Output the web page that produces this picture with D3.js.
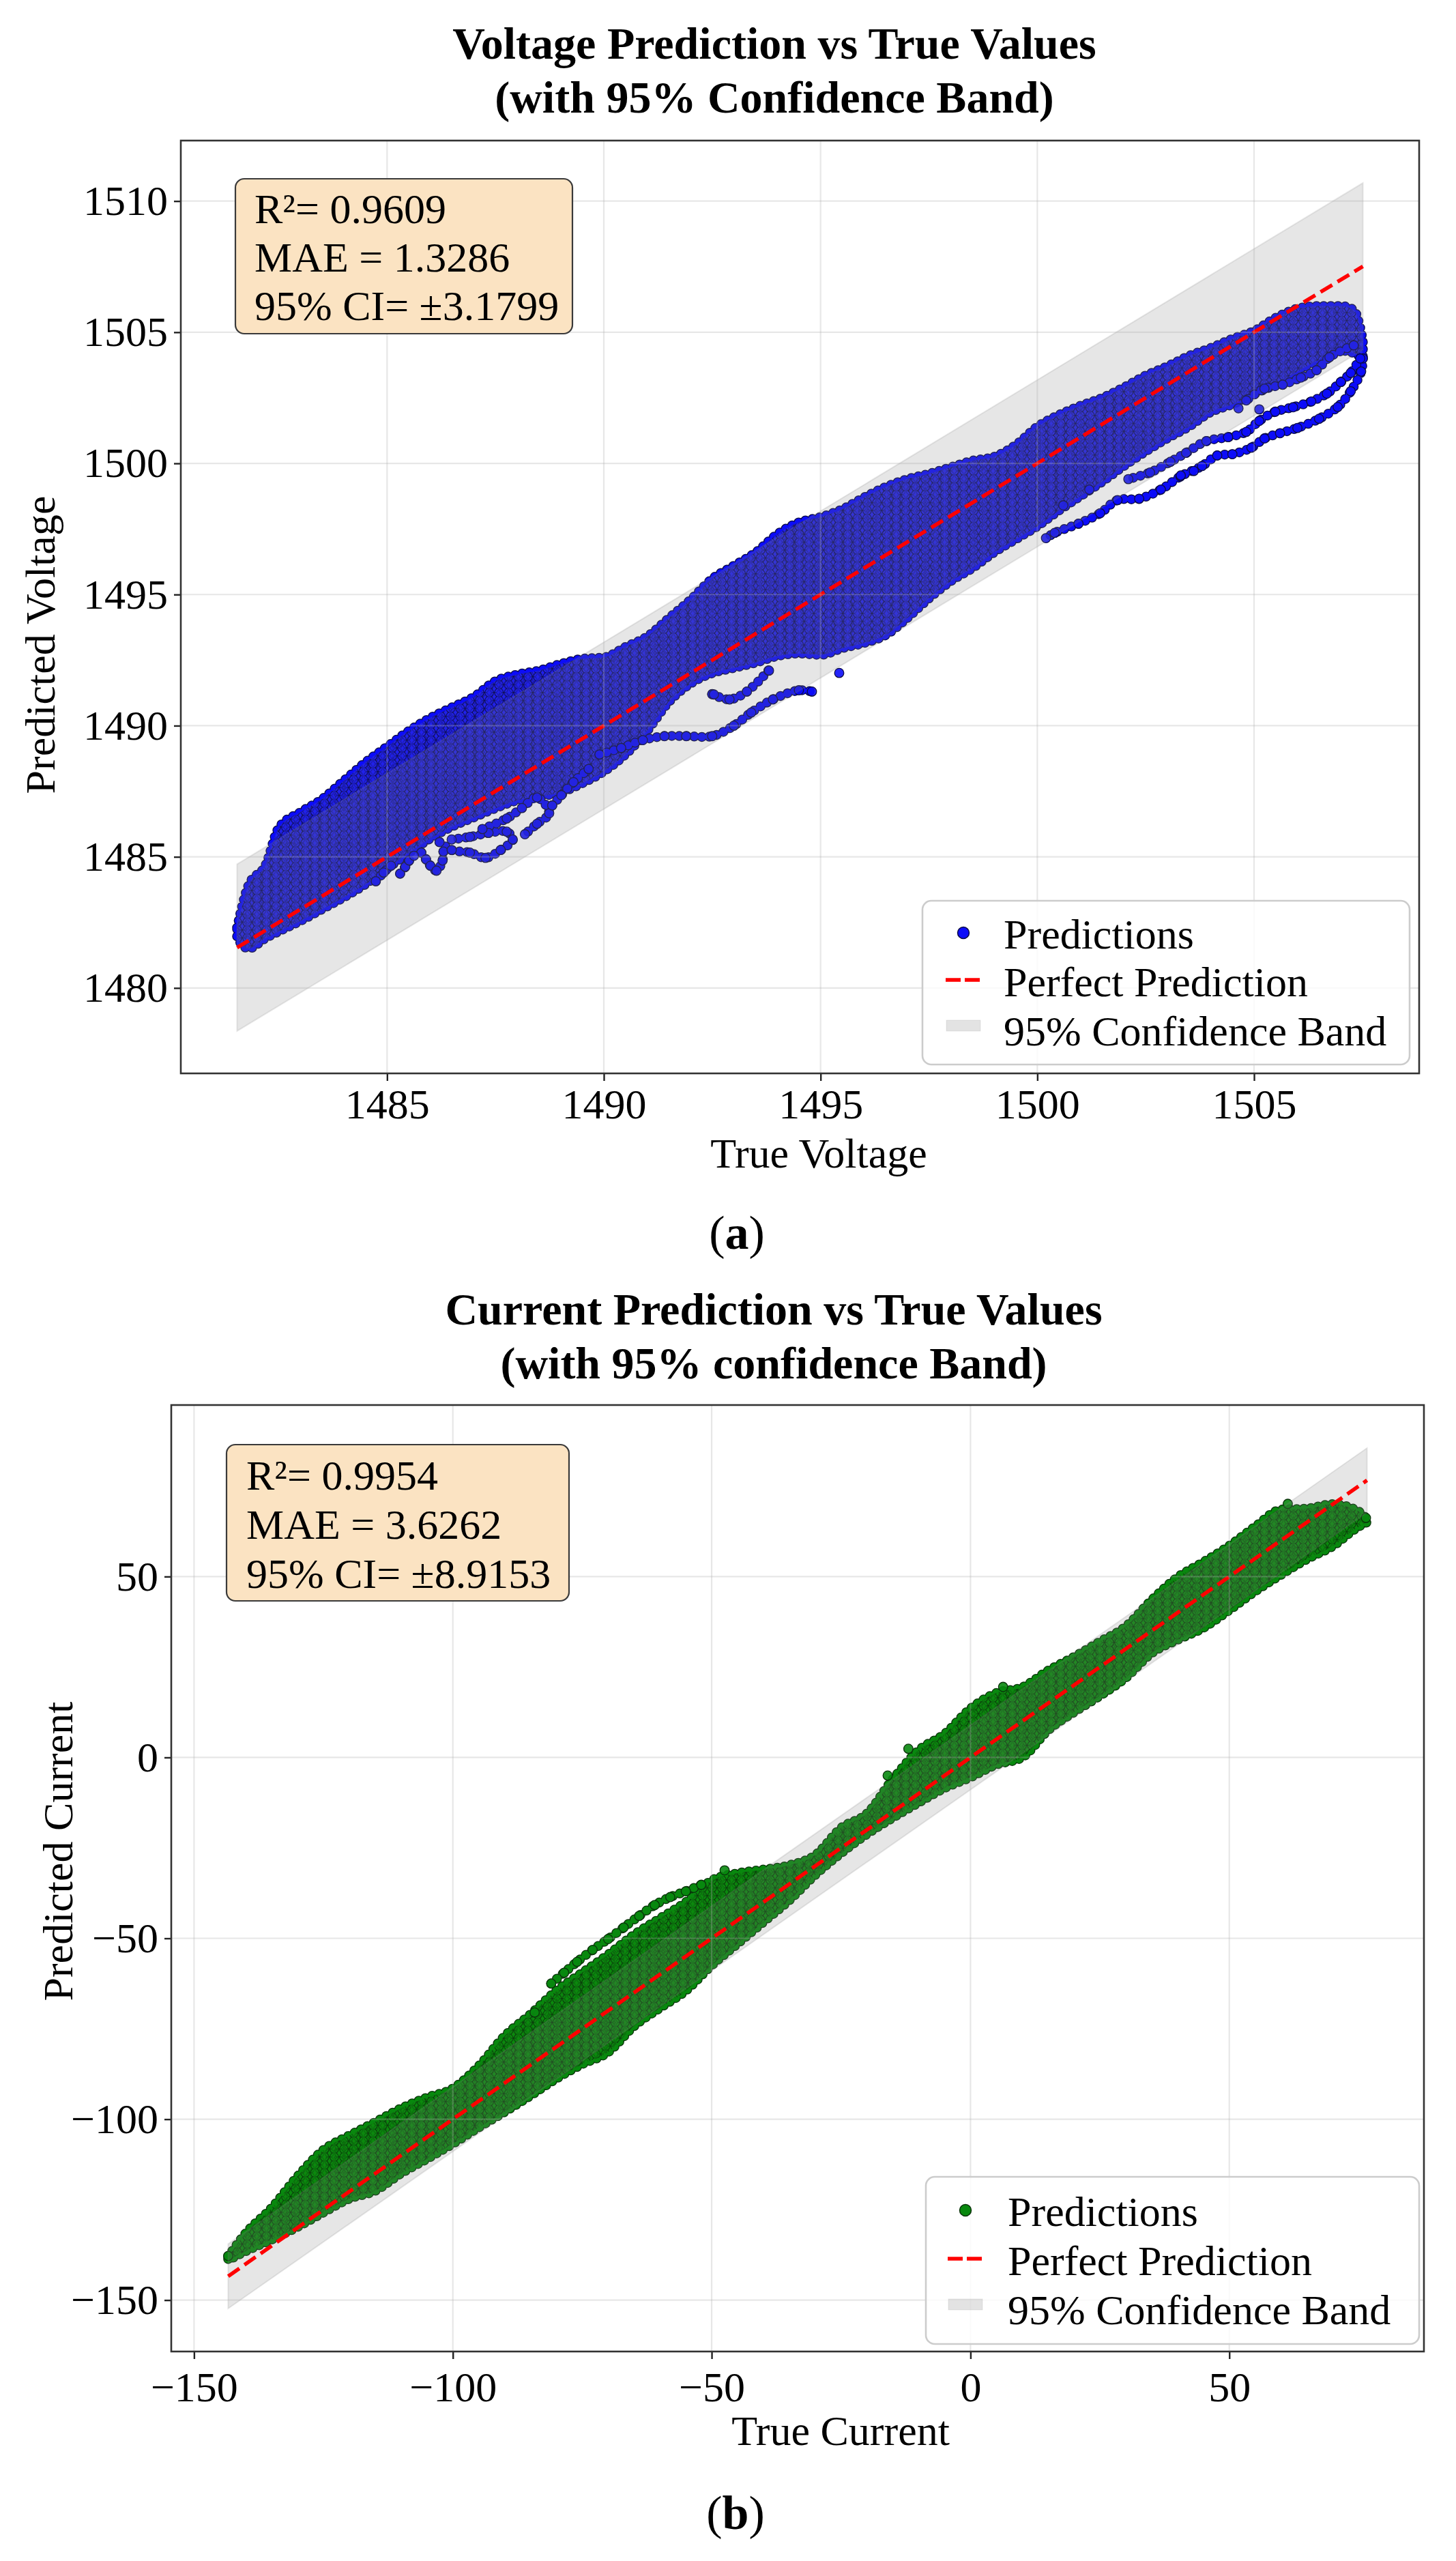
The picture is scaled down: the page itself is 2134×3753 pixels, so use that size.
<!DOCTYPE html>
<html>
<head>
<meta charset="utf-8">
<script src="https://cdn.jsdelivr.net/npm/d3@7"></script>
<style>
  body { margin: 0; background: #fff; }
  svg text { font-family: "Liberation Serif", "Times New Roman", serif; fill: #000; }
</style>
</head>
<body>
<div id="container"></div>
<script>
/* CONSTANTS AND GLOBALS */
const width = 2134,
  height = 3753;

/* DATA (a): Voltage */
const voltTitle = ["Voltage Prediction vs True Values", "(with 95% Confidence Band)"];
const voltStats = ["R²= 0.9609", "MAE = 1.3286", "95% CI= ±3.1799"];
const voltXTicks = [1485, 1490, 1495, 1500, 1505];
const voltYTicks = [1480, 1485, 1490, 1495, 1500, 1505, 1510];
// dense cloud of predictions: true value, upper and lower edge of the cloud
const voltX = [1481.54, 1481.8, 1482.2, 1482.5, 1483, 1483.5, 1484, 1484.5, 1485, 1485.5, 1486, 1486.5, 1487, 1487.5,
  1488, 1488.5, 1489, 1489.5, 1490, 1490.5, 1491, 1491.5, 1492, 1492.5, 1493, 1493.5, 1494, 1494.5, 1495, 1495.5,
  1496, 1496.5, 1497, 1497.5, 1498, 1498.5, 1499, 1499.5, 1500, 1500.5, 1501, 1501.5, 1502, 1502.5, 1503, 1503.5,
  1504, 1504.5, 1505, 1505.5, 1506, 1506.5, 1507, 1507.3, 1507.51];
const voltUpper = [1482.3, 1483.9, 1484.7, 1486.1, 1486.7, 1487.2, 1487.9, 1488.6, 1489.2, 1489.8, 1490.3, 1490.7, 1491.1, 1491.7,
  1491.95, 1492.1, 1492.35, 1492.55, 1492.6, 1493.0, 1493.4, 1494.1, 1494.8, 1495.6, 1496.1, 1496.6, 1497.3, 1497.75, 1497.95, 1498.25,
  1498.7, 1499.1, 1499.4, 1499.6, 1499.85, 1500.1, 1500.25, 1500.7, 1501.4, 1501.85, 1502.2, 1502.5, 1502.9, 1503.35, 1503.7, 1504.1,
  1504.4, 1504.75, 1505.05, 1505.55, 1505.9, 1506.0, 1506.0, 1505.85, 1504.7];
const voltLower = [1481.9, 1481.5, 1481.9, 1482.15, 1482.55, 1483.0, 1483.45, 1483.95, 1484.55, 1485.15, 1485.7, 1486.15, 1486.5, 1486.85,
  1487.15, 1487.3, 1487.45, 1487.8, 1488.25, 1488.9, 1489.8, 1490.9, 1491.6, 1492.0, 1492.2, 1492.4, 1492.65, 1492.75, 1492.7, 1492.95,
  1493.15, 1493.45, 1494.1, 1494.85, 1495.5, 1496.0, 1496.6, 1497.1, 1497.6, 1498.2, 1498.75, 1499.3, 1499.9, 1500.45, 1500.95, 1501.4,
  1501.95, 1502.25, 1502.65, 1503.0, 1503.5, 1503.95, 1504.3, 1504.2, 1504.0];
// loose trajectories of predictions hanging under the cloud
const voltChains = [
  [[1484.74, 1484.07], [1484.92, 1484.4], [1485.09, 1484.66]],
  [[1485.3, 1484.36], [1485.42, 1484.62], [1485.51, 1484.86]],
  [[1485.79, 1485.16], [1485.9, 1484.9], [1486.0, 1484.66], [1486.14, 1484.47], [1486.28, 1484.86], [1486.3, 1485.2]],
  [[1486.21, 1485.56], [1486.49, 1485.26], [1486.91, 1485.16], [1487.27, 1484.96], [1487.62, 1485.26], [1487.9, 1485.66],
    [1487.76, 1485.96], [1487.34, 1485.91], [1486.91, 1485.76], [1486.49, 1485.66]],
  [[1487.2, 1486.06], [1487.76, 1486.46], [1488.11, 1486.86], [1488.46, 1487.26], [1488.74, 1486.66], [1488.46, 1486.26], [1488.18, 1485.86]],
  [[1488.81, 1486.96], [1489.02, 1487.35], [1489.3, 1487.85], [1489.65, 1488.35]],
  [[1489.9, 1488.9], [1490.4, 1489.15], [1490.9, 1489.45], [1491.4, 1489.6], [1491.9, 1489.6], [1492.5, 1489.6], [1493.0, 1490.0],
    [1493.4, 1490.5], [1493.9, 1491.0], [1494.5, 1491.35], [1494.8, 1491.3]],
  [[1492.5, 1491.2], [1492.9, 1491.0], [1493.3, 1491.3], [1493.8, 1492.1]],
  [[1507.51, 1504.0], [1507.47, 1503.5], [1507.23, 1502.75], [1506.93, 1502.15], [1506.5, 1501.7], [1506.0, 1501.35], [1505.6, 1501.15],
    [1505.24, 1500.95], [1504.94, 1500.6], [1504.5, 1500.35], [1504.15, 1500.3], [1503.8, 1499.9], [1503.3, 1499.5], [1502.85, 1499.0],
    [1502.35, 1498.65], [1501.85, 1498.6], [1501.45, 1498.1], [1500.95, 1497.7], [1500.4, 1497.35], [1500.2, 1497.15]],
  [[1507.45, 1504.0], [1507.23, 1503.45], [1507.0, 1503.1], [1506.68, 1502.66], [1506.32, 1502.36], [1505.9, 1502.14], [1505.49, 1501.97],
    [1505.12, 1501.62], [1504.82, 1501.2], [1504.4, 1501.0], [1503.9, 1500.85], [1503.43, 1500.4], [1503.07, 1500.06], [1502.6, 1499.65], [1502.1, 1499.4]],
  [[1507.3, 1504.5], [1506.74, 1504.05], [1506.44, 1503.55], [1506.08, 1503.27], [1505.66, 1503.0], [1505.24, 1502.85], [1504.82, 1502.4]]
];
const voltOutliers = [[1493.81, 1492.1], [1492.54, 1491.19], [1495.43, 1492.01], [1485.62, 1485.04], [1504.64, 1502.1],
  [1505.12, 1502.06], [1503.31, 1499.54], [1503.61, 1499.71], [1501.2, 1499.0], [1500.6, 1498.4]];
const voltPerfect = [1481.54, 1507.51];
const voltBandLow = [1478.36, 1504.33];
const voltBandHigh = [1484.72, 1510.69];

/* DATA (b): Current */
const currTitle = ["Current Prediction vs True Values", "(with 95% confidence Band)"];
const currStats = ["R²= 0.9954", "MAE = 3.6262", "95% CI= ±8.9153"];
const currXTicks = [-150, -100, -50, 0, 50];
const currYTicks = [-150, -100, -50, 0, 50];
const currX = [-143.4, -140, -135, -130, -125, -120, -115, -110, -105, -100, -95, -90, -85, -80, -75, -70, -65, -60, -55, -50,
  -45, -40, -35, -30, -25, -20, -15, -10, -5, 0, 5, 10, 15, 20, 25, 30, 35, 40, 45, 50, 55, 60, 65, 70, 75, 76.6];
const currUpper = [-138.0, -131.5, -124.5, -115.8, -108.5, -104.5, -100.8, -97.0, -94.0, -91.5, -85.3, -77.0, -71.0, -64.5, -59.5, -54.5,
  -49.0, -44.5, -40.0, -34.0, -32.0, -31.0, -29.8, -27.0, -19.5, -15.5, -6.0, 2.0, 6.5, 13.5, 17.8, 19.4, 24.0, 27.8, 32.0, 36.2,
  43.5, 49.8, 54.0, 58.5, 63.8, 68.5, 68.8, 70.0, 68.0, 65.8];
const currLower = [-139.0, -136.5, -133.3, -129.8, -125.8, -122.0, -119.8, -115.0, -111.0, -106.8, -102.3, -98.0, -93.5, -88.8, -84.8, -81.5,
  -74.3, -69.3, -64.5, -57.5, -51.5, -45.5, -39.5, -32.5, -26.5, -21.2, -16.7, -12.5, -8.5, -5.5, -2.0, 0.0, 7.5, 12.5, 17.0, 22.0,
  28.8, 32.5, 35.8, 40.7, 45.9, 50.5, 54.8, 58.4, 63.8, 65.0];
const currChains = [
  [[-81, -62.5], [-78.5, -59.5], [-76, -56.5], [-73, -53.2], [-70, -50.2], [-67, -47.0], [-64, -43.8], [-61, -40.8], [-58, -38.6], [-55, -37.0], [-52, -35.2]]
];
const currOutliers = [[-16.0, -5.0], [-84.2, -70.5], [-47.5, -31.2], [-12, 2.4], [6.3, 19.5], [61.3, 70.1], [76.4, 66.2], [-143.4, -137.8]];
const currPerfect = [-143.4, 76.6];
const currBandLow = [-152.32, 67.68];
const currBandHigh = [-134.48, 85.52];

const legendLabels = ["Predictions", "Perfect Prediction", "95% Confidence Band"];

/* LAYOUT (pixels) */
const panels = [
  {
    key: "a", title: voltTitle, stats: voltStats, xLabel: "True Voltage", yLabel: "Predicted Voltage",
    trueX: voltX, upper: voltUpper, lower: voltLower, chains: voltChains, outliers: voltOutliers,
    perfect: voltPerfect, bandLow: voltBandLow, bandHigh: voltBandHigh, xTicks: voltXTicks, yTicks: voltYTicks,
    frame: { left: 265, right: 2080, top: 206, bottom: 1573 },
    titleX: 1135, titleY: [86, 165], xLabelAt: [1200, 1711], yLabelAt: [80, 945], captionAt: [1080, 1830],
    xTickBase: 66,
    box: { x: 345, y: 262, w: 494, h: 227, tx: 373, base: [327, 398, 469] },
    legend: { x: 1352, y: 1320, w: 714, h: 240, mx: 1412, tx: 1471, base: [1390, 1460, 1532] },
    dot: "#0c0cf8", ring: "#0c0c44", bg: "#1a1ad4", fill2: "#1e1ee6", fill3: "#2424f0"
  },
  {
    key: "b", title: currTitle, stats: currStats, xLabel: "True Current", yLabel: "Predicted Current",
    trueX: currX, upper: currUpper, lower: currLower, chains: currChains, outliers: currOutliers,
    perfect: currPerfect, bandLow: currBandLow, bandHigh: currBandHigh, xTicks: currXTicks, yTicks: currYTicks,
    frame: { left: 251, right: 2087, top: 2059, bottom: 3446 },
    titleX: 1134, titleY: [1941, 2020], xLabelAt: [1232, 3583], yLabelAt: [106, 2713], captionAt: [1078, 3706],
    xTickBase: 73,
    box: { x: 332, y: 2117, w: 502, h: 229, tx: 361, base: [2183, 2255, 2327] },
    legend: { x: 1357, y: 3190, w: 723, h: 245, mx: 1415, tx: 1477, base: [3262, 3334, 3406] },
    dot: "#08880e", ring: "#0a330a", bg: "#0a6c0a", fill2: "#0a850a", fill3: "#0c8e10"
  }
];

let svg;

/* INITIALIZING FUNCTION */
function init() {
  svg = d3.select("#container")
    .append("svg")
    .attr("width", width)
    .attr("height", height);

  svg.append("rect").attr("width", width).attr("height", height).attr("fill", "#fff");

  panels.forEach(p => draw(p));
}

const fmt = d => d < 0 ? "\u2212" + Math.abs(d) : String(d);

// texture of overlapping marker discs, used to paint the dense part of the cloud
function makePattern(defs, id, w, h, bg, fill, ring, opacity) {
  const pat = defs.append("pattern").attr("id", id)
    .attr("patternUnits", "userSpaceOnUse")
    .attr("width", w).attr("height", h);
  if (bg) pat.append("rect").attr("width", w).attr("height", h).attr("fill", bg);
  [[0, 0], [w, 0], [0, h], [w, h], [w / 2, h / 2]].forEach(c => {
    pat.append("circle").attr("cx", c[0]).attr("cy", c[1]).attr("r", 6.4)
      .attr("fill", fill).attr("fill-opacity", opacity)
      .attr("stroke", ring).attr("stroke-width", 1.0);
  });
}

/* DRAW FUNCTION */
function draw(p) {
  const f = p.frame;
  const defs = svg.append("defs");

  // SCALES (matplotlib style 5% margins)
  const xExt = d3.extent(p.trueX);
  const xPad = (xExt[1] - xExt[0]) * 0.05;
  const xScale = d3.scaleLinear()
    .domain([xExt[0] - xPad, xExt[1] + xPad])
    .range([f.left, f.right]);

  const yExt = [d3.min(p.bandLow), d3.max(p.bandHigh)];
  const yPad = (yExt[1] - yExt[0]) * 0.05;
  const yScale = d3.scaleLinear()
    .domain([yExt[0] - yPad, yExt[1] + yPad])
    .range([f.bottom, f.top]);

  defs.append("clipPath").attr("id", "clip-" + p.key)
    .append("rect")
    .attr("x", f.left).attr("y", f.top)
    .attr("width", f.right - f.left).attr("height", f.bottom - f.top);

  makePattern(defs, "dotsA-" + p.key, 12, 10.4, p.bg, p.fill2, p.ring, 1);
  makePattern(defs, "dotsB-" + p.key, 14.2, 11.6, null, p.fill3, p.ring, 0.5);

  const plot = svg.append("g").attr("clip-path", `url(#clip-${p.key})`);

  // SCATTER: dense cloud
  const cloud = p.trueX.map((d, i) => ({ x: d, hi: p.upper[i], lo: p.lower[i] }));
  const areaFn = d3.area()
    .x(d => xScale(d.x))
    .y0(d => yScale(d.lo))
    .y1(d => yScale(d.hi))
    .curve(d3.curveMonotoneX);

  const lineFn = d3.line()
    .x(d => xScale(d[0]))
    .y(d => yScale(d[1]))
    .curve(d3.curveCatmullRom);

  // beaded edges (dark ring, then body)
  [[p.ring, 14.5], [p.dot, 12]].forEach(s => {
    plot.append("path")
      .datum(cloud)
      .attr("d", areaFn)
      .attr("fill", "none")
      .attr("stroke", s[0])
      .attr("stroke-width", s[1])
      .attr("stroke-linecap", "round")
      .attr("stroke-dasharray", "0 10.5");
  });
  ["dotsA-", "dotsB-"].forEach(id => {
    plot.append("path")
      .datum(cloud)
      .attr("d", areaFn)
      .attr("fill", `url(#${id}${p.key})`);
  });

  // trajectories
  p.chains.forEach(ch => {
    [[p.ring, 14.5], [p.dot, 12]].forEach(s => {
      plot.append("path")
        .datum(ch)
        .attr("d", lineFn)
        .attr("fill", "none")
        .attr("stroke", s[0])
        .attr("stroke-width", s[1])
        .attr("stroke-linecap", "round")
        .attr("stroke-dasharray", "0 11");
    });
  });

  plot.selectAll("circle.pt")
    .data(p.chains.flat().concat(p.outliers))
    .join("circle")
    .attr("class", "pt")
    .attr("cx", d => xScale(d[0]))
    .attr("cy", d => yScale(d[1]))
    .attr("r", 6.8)
    .attr("fill", p.dot)
    .attr("fill-opacity", 0.9)
    .attr("stroke", p.ring)
    .attr("stroke-width", 1.3);

  // CONFIDENCE BAND
  const band = p.perfect.map((d, i) => ({ x: d, lo: p.bandLow[i], hi: p.bandHigh[i] }));
  plot.append("path")
    .datum(band)
    .attr("d", d3.area().x(d => xScale(d.x)).y0(d => yScale(d.lo)).y1(d => yScale(d.hi)))
    .attr("fill", "#808080")
    .attr("fill-opacity", 0.2)
    .attr("stroke", "#808080")
    .attr("stroke-opacity", 0.18)
    .attr("stroke-width", 2);

  // GRID
  const grid = svg.append("g");
  grid.selectAll("line.gx")
    .data(p.xTicks)
    .join("line")
    .attr("x1", d => xScale(d)).attr("x2", d => xScale(d))
    .attr("y1", f.top).attr("y2", f.bottom)
    .attr("stroke", "#b0b0b0").attr("stroke-opacity", 0.3).attr("stroke-width", 2.2);
  grid.selectAll("line.gy")
    .data(p.yTicks)
    .join("line")
    .attr("x1", f.left).attr("x2", f.right)
    .attr("y1", d => yScale(d)).attr("y2", d => yScale(d))
    .attr("stroke", "#b0b0b0").attr("stroke-opacity", 0.3).attr("stroke-width", 2.2);

  // PERFECT PREDICTION LINE
  plot.append("path")
    .datum(p.perfect.map(d => [d, d]))
    .attr("d", d3.line().x(d => xScale(d[0])).y(d => yScale(d[1])))
    .attr("stroke", "#ff0000")
    .attr("stroke-width", 5.5)
    .attr("stroke-dasharray", "20 9")
    .attr("fill", "none");

  // AXES
  const xAxis = d3.axisBottom(xScale).tickValues(p.xTicks).tickFormat(fmt)
    .tickSize(11).tickPadding(p.xTickBase - 11 - 44);
  const yAxis = d3.axisLeft(yScale).tickValues(p.yTicks).tickFormat(fmt)
    .tickSize(10).tickPadding(9);

  const gx = svg.append("g").attr("transform", `translate(0, ${f.bottom})`).call(xAxis);
  const gy = svg.append("g").attr("transform", `translate(${f.left}, 0)`).call(yAxis);
  [gx, gy].forEach(g => {
    g.select(".domain").remove();
    g.selectAll(".tick line").attr("stroke", "#222").attr("stroke-width", 2.4);
    g.selectAll(".tick text")
      .attr("font-size", 62)
      .attr("font-family", "Liberation Serif, Times New Roman, serif")
      .attr("fill", "#000");
  });

  // frame
  svg.append("rect")
    .attr("x", f.left).attr("y", f.top)
    .attr("width", f.right - f.left).attr("height", f.bottom - f.top)
    .attr("fill", "none").attr("stroke", "#333").attr("stroke-width", 2.6);

  // TITLES AND LABELS
  svg.selectAll(null)
    .data(p.title)
    .join("text")
    .attr("x", p.titleX)
    .attr("y", (d, i) => p.titleY[i])
    .attr("text-anchor", "middle")
    .attr("font-size", 66)
    .attr("font-weight", "bold")
    .text(d => d);

  svg.append("text")
    .attr("x", p.xLabelAt[0]).attr("y", p.xLabelAt[1])
    .attr("text-anchor", "middle").attr("font-size", 62)
    .text(p.xLabel);

  svg.append("text")
    .attr("transform", `translate(${p.yLabelAt[0]}, ${p.yLabelAt[1]}) rotate(-90)`)
    .attr("text-anchor", "middle").attr("font-size", 62)
    .text(p.yLabel);

  const cap = svg.append("text")
    .attr("x", p.captionAt[0]).attr("y", p.captionAt[1])
    .attr("text-anchor", "middle").attr("font-size", 70);
  cap.append("tspan").text("(");
  cap.append("tspan").attr("font-weight", "bold").text(p.key);
  cap.append("tspan").text(")");

  // STATS BOX
  const b = p.box;
  svg.append("rect")
    .attr("x", b.x).attr("y", b.y).attr("width", b.w).attr("height", b.h)
    .attr("rx", 13)
    .attr("fill", "#fbe3c2")
    .attr("stroke", "#3a3a3a").attr("stroke-width", 2.2);
  svg.selectAll(null)
    .data(p.stats)
    .join("text")
    .attr("x", b.tx)
    .attr("y", (d, i) => b.base[i])
    .attr("font-size", 62)
    .text(d => d);

  // LEGEND
  const L = p.legend;
  svg.append("rect")
    .attr("x", L.x).attr("y", L.y).attr("width", L.w).attr("height", L.h)
    .attr("rx", 13)
    .attr("fill", "#fff").attr("fill-opacity", 0.8)
    .attr("stroke", "#cccccc").attr("stroke-width", 2.6);

  svg.append("circle")
    .attr("cx", L.mx).attr("cy", L.base[0] - 23).attr("r", 8.5)
    .attr("fill", p.dot).attr("stroke", p.ring).attr("stroke-width", 1.5);
  svg.append("line")
    .attr("x1", L.mx - 26).attr("x2", L.mx + 26)
    .attr("y1", L.base[1] - 24).attr("y2", L.base[1] - 24)
    .attr("stroke", "#ff0000").attr("stroke-width", 5.5)
    .attr("stroke-dasharray", "22 6");
  svg.append("rect")
    .attr("x", L.mx - 25).attr("y", L.base[2] - 37).attr("width", 50).attr("height", 16)
    .attr("fill", "#808080").attr("fill-opacity", 0.22)
    .attr("stroke", "#808080").attr("stroke-opacity", 0.15);

  svg.selectAll(null)
    .data(legendLabels)
    .join("text")
    .attr("x", L.tx)
    .attr("y", (d, i) => L.base[i])
    .attr("font-size", 62)
    .text(d => d);
}

init();
</script>
</body>
</html>
